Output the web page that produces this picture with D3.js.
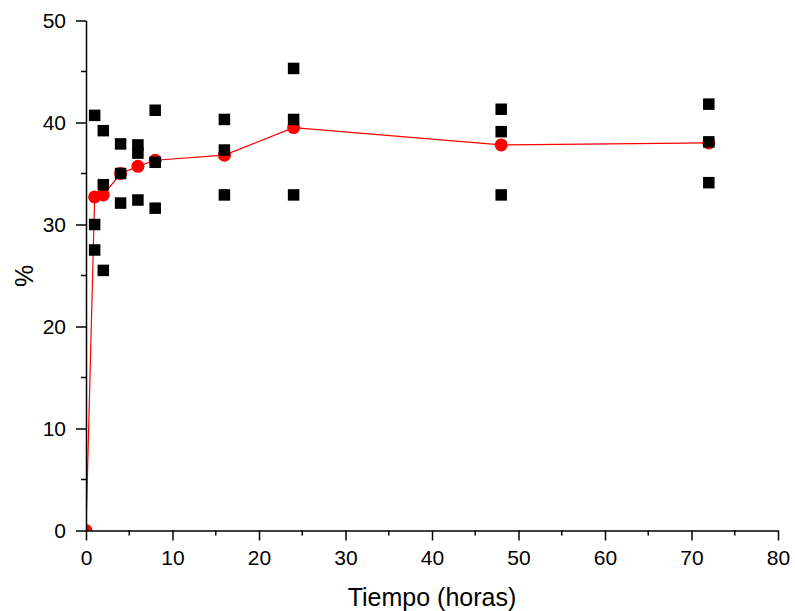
<!DOCTYPE html>
<html><head><meta charset="utf-8">
<script src="https://cdn.jsdelivr.net/npm/d3@7"></script>
<style>body{margin:0;background:#fff}svg{display:block;font-family:Arial,"Liberation Sans",sans-serif}</style>
</head><body><svg id="c" width="795" height="611"></svg>
<script>
// Data
const timeHours = [1, 2, 4, 6, 8, 16, 24, 48, 72];
const rep1 = [40.7, 39.2, 37.9, 37.8, 41.2, 40.3, 45.3, 41.3, 41.8];
const rep2 = [30.0, 33.9, 35.0, 37.0, 36.1, 37.3, 40.3, 39.1, 38.1];
const rep3 = [27.5, 25.5, 32.1, 32.4, 31.6, 32.9, 32.9, 32.9, 34.1];
const meanTime = [0, 1, 2, 4, 6, 8, 16, 24, 48, 72];
const meanValues = [0, 32.7, 32.9, 35.0, 35.7, 36.3, 36.8, 39.5, 37.8, 38.0];
const xTicks = [0, 10, 20, 30, 40, 50, 60, 70, 80];
const yTicks = [0, 10, 20, 30, 40, 50];

const svg = d3.select("#c");
const x = d3.scaleLinear().domain([0, 80]).range([86, 778]);
const y = d3.scaleLinear().domain([0, 50]).range([530.5, 20.5]);

svg.append("clipPath").attr("id","clip").append("rect")
  .attr("x",86).attr("y",0).attr("width",720).attr("height",530.5);

const plot = svg.append("g").attr("clip-path","url(#clip)");

// mean line + circles (under squares)
const meanData = meanTime.map((t,i)=>[t,meanValues[i]]);
plot.append("path").datum(meanData)
  .attr("d", d3.line().x(d=>x(d[0])).y(d=>y(d[1])))
  .attr("fill","none").attr("stroke","#ff0000").attr("stroke-width",1.2);
plot.selectAll("circle.m").data(meanData).join("circle").attr("class","m")
  .attr("cx",d=>x(d[0])).attr("cy",d=>y(d[1])).attr("r",6.5).attr("fill","#ff0000");

// scatter squares
const pts = [];
timeHours.forEach((t,i)=>{ [rep1[i],rep2[i],rep3[i]].forEach(v=>pts.push([t,v])); });
const sq = 11.5;
plot.selectAll("rect.pt").data(pts).join("rect").attr("class","pt")
  .attr("x",d=>x(d[0])-sq/2).attr("y",d=>y(d[1])-sq/2)
  .attr("width",sq).attr("height",sq).attr("fill","#000");

// axes
const xMinor = d3.range(5, 80, 10);
const yMinor = d3.range(5, 50, 10);
const gx = svg.append("g").attr("transform","translate(0,530.5)");
gx.call(d3.axisBottom(x).tickValues(xTicks).tickSize(10).tickSizeOuter(0).tickPadding(9.5).tickFormat(d3.format("d")));
gx.selectAll(".minor").data(xMinor).join("line").attr("class","minor")
  .attr("x1",d=>x(d)).attr("x2",d=>x(d)).attr("y1",0).attr("y2",5).attr("stroke","#000").attr("stroke-width",1.5);
const gy = svg.append("g").attr("transform","translate(86,0)");
gy.call(d3.axisLeft(y).tickValues(yTicks).tickSize(10).tickSizeOuter(0).tickPadding(10).tickFormat(d3.format("d")));
gy.selectAll(".minor").data(yMinor).join("line").attr("class","minor")
  .attr("y1",d=>y(d)).attr("y2",d=>y(d)).attr("x1",0).attr("x2",-5).attr("stroke","#000").attr("stroke-width",1.5);

[gx,gy].forEach(g=>{
  g.select(".domain").attr("stroke","#000").attr("stroke-width",1.5);
  g.selectAll(".tick line").attr("stroke","#000").attr("stroke-width",1.5);
  g.selectAll(".tick text").attr("font-size","21px").attr("fill","#000").attr("font-family","Arial, 'Liberation Sans', sans-serif");
});

svg.append("text").attr("x",432).attr("y",606).attr("text-anchor","middle")
  .attr("font-size","25px").attr("fill","#000").text("Tiempo (horas)");
svg.append("text").attr("transform","translate(33,276) rotate(-90)").attr("text-anchor","middle")
  .attr("font-size","25px").attr("fill","#000").text("%");
</script></body></html>
